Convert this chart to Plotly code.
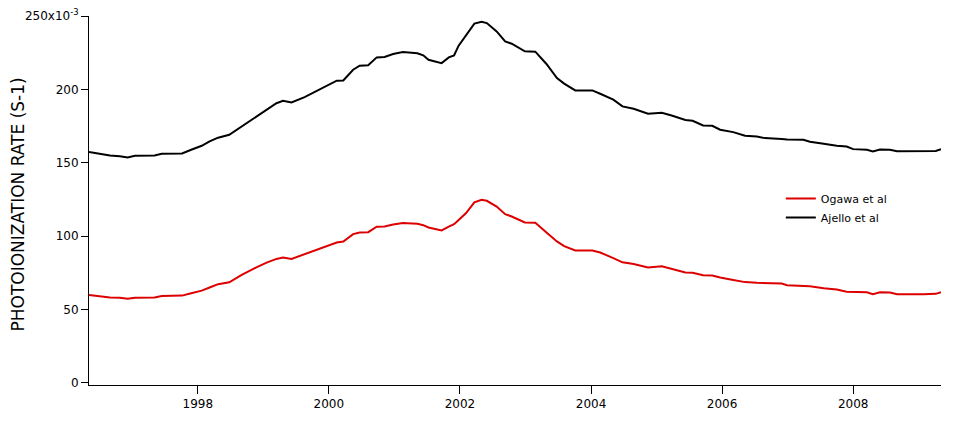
import plotly.graph_objects as go

# decimal years
years = [1996.34, 1996.48, 1996.66, 1996.81, 1996.93, 1997.04, 1997.34, 1997.45, 1997.76, 1997.90,
         1998.06, 1998.18, 1998.31, 1998.48, 1998.67, 1998.87, 1999.05, 1999.20, 1999.30, 1999.43,
         1999.63, 1999.84, 2000.02, 2000.12, 2000.22, 2000.37, 2000.47, 2000.60, 2000.73, 2000.85,
         2000.98, 2001.13, 2001.35, 2001.44, 2001.52, 2001.72, 2001.83, 2001.91, 2001.98, 2002.09,
         2002.22, 2002.33, 2002.41, 2002.56, 2002.69, 2002.79, 2002.99, 2003.15, 2003.32, 2003.48,
         2003.59, 2003.76, 2004.02, 2004.14, 2004.34, 2004.48, 2004.65, 2004.87, 2005.08, 2005.23,
         2005.44, 2005.55, 2005.71, 2005.85, 2005.97, 2006.17, 2006.35, 2006.53, 2006.65, 2006.91,
         2006.99, 2007.24, 2007.34, 2007.55, 2007.75, 2007.90, 2008.00, 2008.21, 2008.30, 2008.41,
         2008.56, 2008.67, 2009.07, 2009.26, 2009.34]

# photoionization rate, units of 1e-3 s^-1
ogawa = [60.0, 59.3, 58.2, 58.0, 57.3, 58.0, 58.2, 59.3, 59.5, 61.1,
         62.9, 65.0, 67.3, 68.6, 73.6, 78.2, 82.0, 84.5, 85.4, 84.5,
         87.7, 91.1, 93.6, 95.7, 96.4, 101.4, 102.5, 102.7, 106.4, 106.6,
         107.9, 108.9, 108.4, 107.5, 105.9, 103.9, 106.5, 108.2, 111.0, 115.6,
         123.0, 124.8, 124.1, 120.2, 115.0, 113.4, 109.3, 109.1, 102.5, 96.4,
         93.2, 90.2, 90.2, 88.9, 85.0, 82.2, 81.1, 78.6, 79.5, 77.9,
         75.2, 75.0, 73.4, 73.2, 71.8, 70.2, 68.7, 68.2, 68.2, 67.7,
         66.6, 66.3, 65.8, 64.5, 63.6, 62.2, 62.0, 61.8, 60.5, 61.8,
         61.6, 60.5, 60.5, 60.7, 61.8]

ajello = [157.3, 156.1, 155.0, 154.5, 153.6, 154.8, 155.0, 156.1, 156.4, 158.9,
          161.6, 164.6, 167.1, 169.1, 174.8, 181.1, 186.6, 190.6, 192.2, 191.1,
          194.7, 199.3, 203.2, 205.9, 206.1, 213.4, 216.1, 216.4, 221.8, 222.1,
          224.1, 225.5, 224.6, 223.2, 220.2, 217.9, 221.8, 223.2, 229.8, 236.6,
          244.8, 246.1, 245.2, 239.5, 232.7, 231.1, 225.9, 225.7, 217.3, 207.7,
          203.9, 199.3, 199.3, 197.0, 193.0, 188.4, 186.8, 183.4, 184.1, 182.2,
          179.1, 178.6, 175.4, 175.2, 172.5, 170.9, 168.4, 167.9, 166.8, 166.2,
          165.9, 165.7, 164.3, 163.0, 161.6, 161.1, 159.3, 158.9, 157.7, 159.1,
          158.9, 157.9, 157.9, 158.1, 159.3]

x_ticks = [1998, 2000, 2002, 2004, 2006, 2008]
y_ticks = [0, 50, 100, 150, 200, 250]
y_ticktext = ["0", "50", "100", "150", "200", "250x10<sup>-3</sup>"]

font = "DejaVu Sans"

fig = go.Figure()
fig.add_trace(go.Scatter(x=years, y=ogawa, mode="lines", name="Ogawa et al",
                         line=dict(color="#dd0000", width=2)))
fig.add_trace(go.Scatter(x=years, y=ajello, mode="lines", name="Ajello et al",
                         line=dict(color="#000000", width=2)))

fig.update_layout(
    width=971, height=431,
    margin=dict(l=89, r=30, t=16, b=46),
    paper_bgcolor="white", plot_bgcolor="white",
    font=dict(family=font, size=12, color="black"),
    showlegend=True,
    legend=dict(x=0.812, y=0.545, xanchor="left", yanchor="top",
                bgcolor="rgba(0,0,0,0)", font=dict(size=11), tracegroupgap=0),
)
fig.update_xaxes(range=[1996.34, 2009.34], tickvals=x_ticks, showgrid=False, zeroline=False,
                 showline=True, linecolor="black", linewidth=1, automargin=False,
                 ticks="outside", ticklen=8, tickcolor="black")
fig.update_yaxes(range=[-1.4, 250], tickvals=y_ticks, ticktext=y_ticktext, showgrid=False,
                 zeroline=False, showline=True, linecolor="black", linewidth=1, automargin=False,
                 ticks="outside", ticklen=7, tickcolor="black", ticklabeloverflow="allow")

# y title as a rotated annotation: the axis title gets pinned to the page edge
fig.add_annotation(text="PHOTOIONIZATION RATE (S-1)", textangle=-90, showarrow=False,
                   xref="paper", yref="paper", x=-0.083, y=0.49,
                   xanchor="center", yanchor="middle", font=dict(size=17))

# drop the default body margin so the figure fills the window exactly
fig.write_html("out.html", config={"displayModeBar": False},
               post_script="document.body.style.margin='0';")
